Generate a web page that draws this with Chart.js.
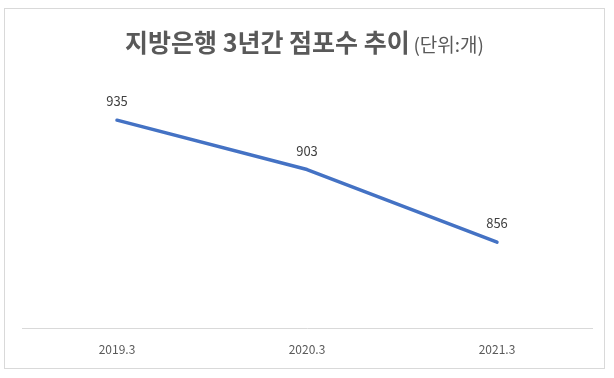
<!DOCTYPE html>
<html><head><meta charset="utf-8">
<script src="https://cdn.jsdelivr.net/npm/chart.js@4"></script>
<style>
html,body{margin:0;padding:0;background:#fff;width:614px;height:378px;overflow:hidden;}
#box{position:absolute;left:4px;top:8px;width:599px;height:359px;border:1px solid #d9d9d9;}
#title{position:absolute;left:0;top:15px;width:599px;text-align:center;color:#595959;font-family:"Noto Sans CJK KR",sans-serif;white-space:nowrap;line-height:34px;}
#title .main{font-size:25px;font-weight:bold;}
#title .unit{font-size:19px;font-weight:normal;}
#wrap{position:absolute;left:0;top:0;width:599px;height:362px;}
</style></head>
<body>
<div id="box">
<div id="wrap"><canvas id="c"></canvas></div>
<div id="title"><span class="main">지방은행 3년간 점포수 추이</span> <span class="unit">(단위:개)</span></div>
</div>
<script>
const categories = ["2019.3", "2020.3", "2021.3"];
const branchCounts = [935, 903, 856];
const seriesName = "점포수";

const labelPlugin = {
  id: 'pointLabels',
  afterDatasetsDraw(chart) {
    const ctx = chart.ctx;
    const meta = chart.getDatasetMeta(0);
    ctx.save();
    ctx.font = '13px "Noto Sans CJK KR", sans-serif';
    ctx.fillStyle = '#404040';
    ctx.textAlign = 'center';
    ctx.textBaseline = 'middle';
    meta.data.forEach((pt, i) => {
      ctx.fillText(String(chart.data.datasets[0].data[i]), pt.x, pt.y - 19);
    });
    ctx.restore();
  }
};

new Chart(document.getElementById('c'), {
  type: 'line',
  data: {
    labels: categories,
    datasets: [{
      label: seriesName,
      data: branchCounts,
      borderColor: '#4472C4',
      borderWidth: 3.5,
      pointRadius: 0,
      tension: 0,
      borderCapStyle: 'round',
      borderJoinStyle: 'round'
    }]
  },
  options: {
    responsive: true,
    maintainAspectRatio: false,
    animation: false,
    layout: { padding: { left: 17, right: 12, top: 88, bottom: 0 } },
    plugins: { legend: { display: false }, tooltip: { enabled: false }, title: { display: false } },
    scales: {
      x: {
        offset: true,
        grid: { display: false, drawTicks: false },
        border: { display: true, color: '#d9d9d9', width: 1 },
        ticks: { color: '#595959', font: { family: '"Noto Sans CJK KR", sans-serif', size: 12 }, padding: 14 }
      },
      y: {
        display: false,
        min: 800,
        max: 950
      }
    }
  },
  plugins: [labelPlugin]
});
</script>
</body></html>
